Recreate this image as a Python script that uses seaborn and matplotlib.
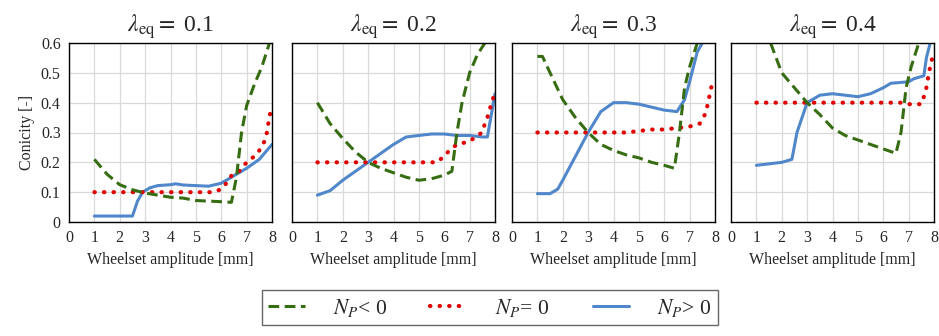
import numpy as np
import pandas as pd
import matplotlib
matplotlib.use('Agg')
import matplotlib.pyplot as plt
import seaborn as sns

sns.set_style('white')
plt.rcParams['font.family'] = ['Liberation Serif', 'DejaVu Serif']
plt.rcParams['mathtext.fontset'] = 'stix'

# equivalent conicity of each panel
lambdas = [0.1, 0.2, 0.3, 0.4]

# N_P < 0 (dashed green)
neg_x = [
    [1, 1.5, 2, 2.5, 3, 3.5, 4, 4.5, 5, 5.5, 6, 6.4, 6.6, 6.8, 7, 7.3, 7.6, 7.9],
    [1, 1.5, 2, 2.5, 3, 3.5, 4, 4.5, 5, 5.5, 6, 6.3, 6.5, 6.7, 7, 7.3, 7.6],
    [1, 1.2, 1.5, 2, 2.5, 3, 3.5, 4, 4.5, 5, 5.5, 6, 6.4, 6.6, 6.8, 7, 7.3],
    [1.56, 2, 2.5, 3, 3.5, 4, 4.5, 5, 5.5, 6, 6.5, 6.7, 6.9, 7.1, 7.4],
]
neg_y = [
    [0.21, 0.16, 0.125, 0.108, 0.097, 0.09, 0.083, 0.08, 0.072, 0.07, 0.068, 0.066, 0.15, 0.3, 0.39, 0.46, 0.52, 0.6],
    [0.40, 0.33, 0.28, 0.235, 0.20, 0.18, 0.165, 0.15, 0.14, 0.145, 0.157, 0.17, 0.3, 0.4, 0.5, 0.56, 0.6],
    [0.555, 0.555, 0.5, 0.41, 0.35, 0.30, 0.26, 0.24, 0.225, 0.215, 0.2, 0.19, 0.18, 0.3, 0.45, 0.52, 0.6],
    [0.6, 0.5, 0.45, 0.4, 0.36, 0.315, 0.29, 0.275, 0.26, 0.245, 0.23, 0.3, 0.45, 0.52, 0.6],
]

# N_P = 0 (dotted red)
zero_x = [
    [1, 2, 3, 4, 5, 5.7, 6, 6.2, 6.4, 6.7, 7, 7.3, 7.5, 7.7, 7.8, 7.9, 8],
    [1, 2, 3, 4, 5, 5.7, 6, 6.2, 6.5, 7, 7.3, 7.5, 7.6, 7.7, 7.8, 7.9, 8],
    [1, 2, 3, 4, 4.5, 5, 5.5, 6, 6.5, 7, 7.4, 7.6, 7.7, 7.8, 7.9],
    [1, 2, 3, 4, 5, 6, 6.8, 7, 7.5, 7.6, 7.7, 7.8, 7.9, 8],
]
zero_y = [
    [0.1, 0.1, 0.1, 0.1, 0.1, 0.1, 0.11, 0.13, 0.155, 0.17, 0.2, 0.22, 0.24, 0.27, 0.3, 0.355, 0.385],
    [0.2, 0.2, 0.2, 0.2, 0.2, 0.2, 0.22, 0.24, 0.26, 0.27, 0.29, 0.3, 0.33, 0.35, 0.38, 0.41, 0.43],
    [0.3, 0.3, 0.3, 0.3, 0.3, 0.305, 0.31, 0.31, 0.315, 0.32, 0.33, 0.36, 0.39, 0.43, 0.47],
    [0.4, 0.4, 0.4, 0.4, 0.4, 0.4, 0.4, 0.395, 0.395, 0.42, 0.45, 0.5, 0.54, 0.57],
]

# N_P > 0 (solid blue)
pos_x = [
    [1, 2.5, 2.7, 2.9, 3.2, 3.5, 4, 4.2, 4.5, 5, 5.5, 6, 6.5, 7, 7.5, 8],
    [1, 1.5, 2, 2.5, 3, 3.5, 4, 4.5, 5, 5.5, 6, 6.5, 7, 7.5, 7.7, 8],
    [1, 1.5, 1.8, 2, 2.5, 3, 3.5, 4, 4.5, 5, 5.5, 6, 6.5, 6.8, 7, 7.3, 7.5],
    [1, 1.5, 2, 2.4, 2.6, 2.8, 3, 3.5, 4, 4.5, 5, 5.5, 6, 6.3, 7, 7.2, 7.6, 7.7, 7.85],
]
pos_y = [
    [0.02, 0.02, 0.07, 0.1, 0.115, 0.122, 0.125, 0.128, 0.124, 0.122, 0.12, 0.13, 0.155, 0.18, 0.21, 0.26],
    [0.09, 0.105, 0.14, 0.17, 0.2, 0.23, 0.26, 0.285, 0.29, 0.295, 0.295, 0.29, 0.29, 0.285, 0.285, 0.43],
    [0.095, 0.095, 0.11, 0.14, 0.22, 0.3, 0.37, 0.4, 0.4, 0.395, 0.385, 0.375, 0.37, 0.41, 0.47, 0.57, 0.6],
    [0.19, 0.195, 0.2, 0.21, 0.3, 0.35, 0.4, 0.425, 0.43, 0.425, 0.42, 0.43, 0.45, 0.465, 0.47, 0.48, 0.49, 0.55, 0.6],
]

colors = {'neg': '#376D12', 'zero': '#E00000', 'pos': '#5087CB'}
labels = {'neg': r'$N_P$< 0', 'zero': r'$N_P$= 0', 'pos': r'$N_P$> 0'}

fig = plt.figure(figsize=(9.39, 3.36), dpi=100)
lefts = [69, 292, 512, 731]
handles = []
for i, lam in enumerate(lambdas):
    ax = fig.add_axes([lefts[i] / 939, 1 - 222 / 336, 203 / 939, 179 / 336])
    ax.grid(True, color='#d9d9d9', linewidth=0.9)
    ax.set_axisbelow(True)

    d1 = pd.DataFrame({'x': neg_x[i], 'y': neg_y[i]})
    d2 = pd.DataFrame({'x': zero_x[i], 'y': zero_y[i]})
    d3 = pd.DataFrame({'x': pos_x[i], 'y': pos_y[i]})
    sns.lineplot(data=d3, x='x', y='y', ax=ax, color=colors['pos'], linewidth=2.2)
    sns.lineplot(data=d2, x='x', y='y', ax=ax, color=colors['zero'], linewidth=3,
                 linestyle=(0, (0.1, 2.2)), dash_capstyle='round')
    sns.lineplot(data=d1, x='x', y='y', ax=ax, color=colors['neg'], linewidth=2.2,
                 linestyle=(0, (3.5, 1.8)))

    ax.set_xlim(0, 8)
    ax.set_ylim(0, 0.6)
    ax.set_xticks(range(0, 9))
    ax.set_yticks([0, 0.1, 0.2, 0.3, 0.4, 0.5, 0.6])
    ax.tick_params(length=0, labelsize=11.5, pad=6)
    if i == 0:
        ax.set_yticklabels(['0', '0.1', '0.2', '0.3', '0.4', '0.5', '0.6'])
        ax.set_ylabel('Conicity [-]', fontsize=11.5)
    else:
        ax.set_yticklabels([])
        ax.set_ylabel('')
    ax.set_xlabel('Wheelset amplitude [mm]', fontsize=11.5, labelpad=4)
    ax.set_title(r'$\lambda_{\rm eq}=$ ' + str(lam), fontsize=17, pad=8)
    for s in ax.spines.values():
        s.set_color('black')
        s.set_linewidth(1)
    if i == 0:
        handles = [ax.lines[2], ax.lines[1], ax.lines[0]]

fig.legend(handles, [labels['neg'], labels['zero'], labels['pos']],
           loc='lower center', bbox_to_anchor=(490 / 939, 0.0), ncol=3,
           frameon=True, fancybox=False, edgecolor='#404040', fontsize=15.5,
           handlelength=1.7, columnspacing=2.0, handletextpad=1.3,
           borderpad=0.3)

fig.savefig('out.png', dpi=100)
